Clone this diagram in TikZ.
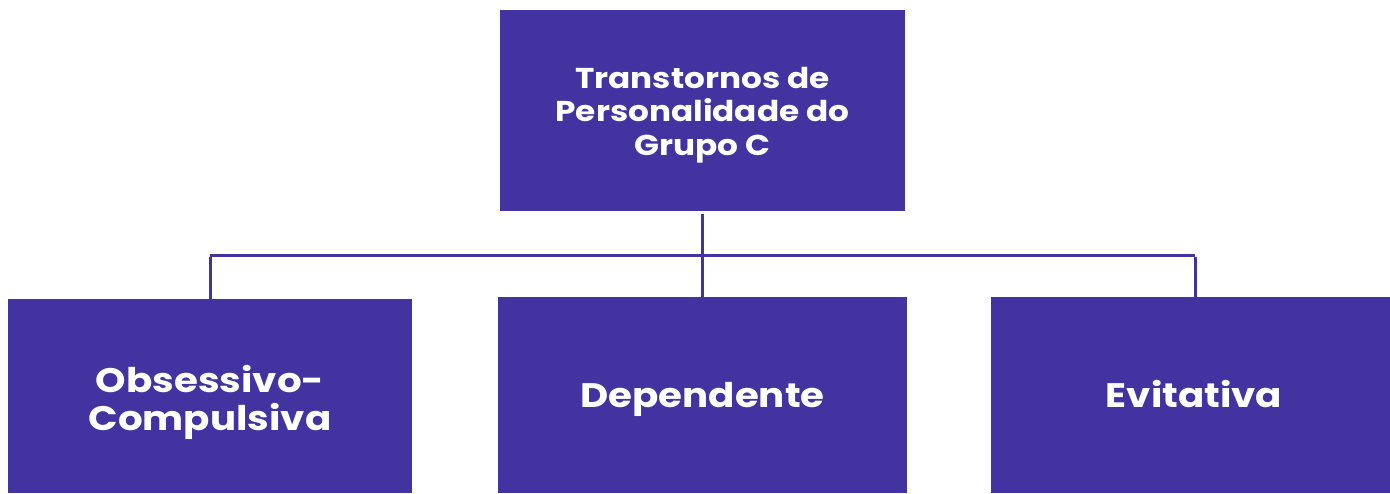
\documentclass[tikz,border=0pt]{standalone}
\usepackage{fontspec}
\setmainfont{Poppins}[FakeStretch=1.14]
\definecolor{boxc}{RGB}{67,51,161}
\begin{document}
\begin{tikzpicture}[x=1pt,y=-1pt,
  box/.style={fill=boxc,draw=none,inner sep=0pt},
  lbl/.style={inner sep=0pt,text=white,align=center,anchor=base},
  big/.style={font=\bfseries\fontsize{34}{38}\selectfont},
  small/.style={font=\bfseries\fontsize{28.7}{33.5}\selectfont},
  conn/.style={draw=boxc,line width=3pt}]
\useasboundingbox (0,0) rectangle (1390,493);
\node[box,minimum width=405pt,minimum height=201pt] (top) at (702.5,110.5) {};
\node[box,minimum width=404pt,minimum height=194pt] (oc) at (210,396) {};
\node[box,minimum width=409pt,minimum height=196pt] (dep) at (702.5,395) {};
\node[box,minimum width=399pt,minimum height=196pt] (evi) at (1190.5,395) {};
\node[lbl,small] (topl) at (702.5,155) {Transtornos de\\Personalidade do\\Grupo C};
\node[lbl,big] (ocl) at (210,430) {Obsessivo-\\Compulsiva};
\node[lbl,big] (depl) at (702.5,407) {Dependente};
\node[lbl,big] (evil) at (1194,407) {Evitativa};
\coordinate (jl) at (210,255);
\coordinate (jr) at (1195,255);
\draw[conn] ([yshift=-3pt]top.south) -- (dep.north);
\draw[conn] (jl) -- (jr);
\draw[conn] ([yshift=-1.5pt]jl) -- (jl |- oc.north);
\draw[conn] ([yshift=-1.5pt]jr) -- (jr |- evi.north);
\end{tikzpicture}
\end{document}
